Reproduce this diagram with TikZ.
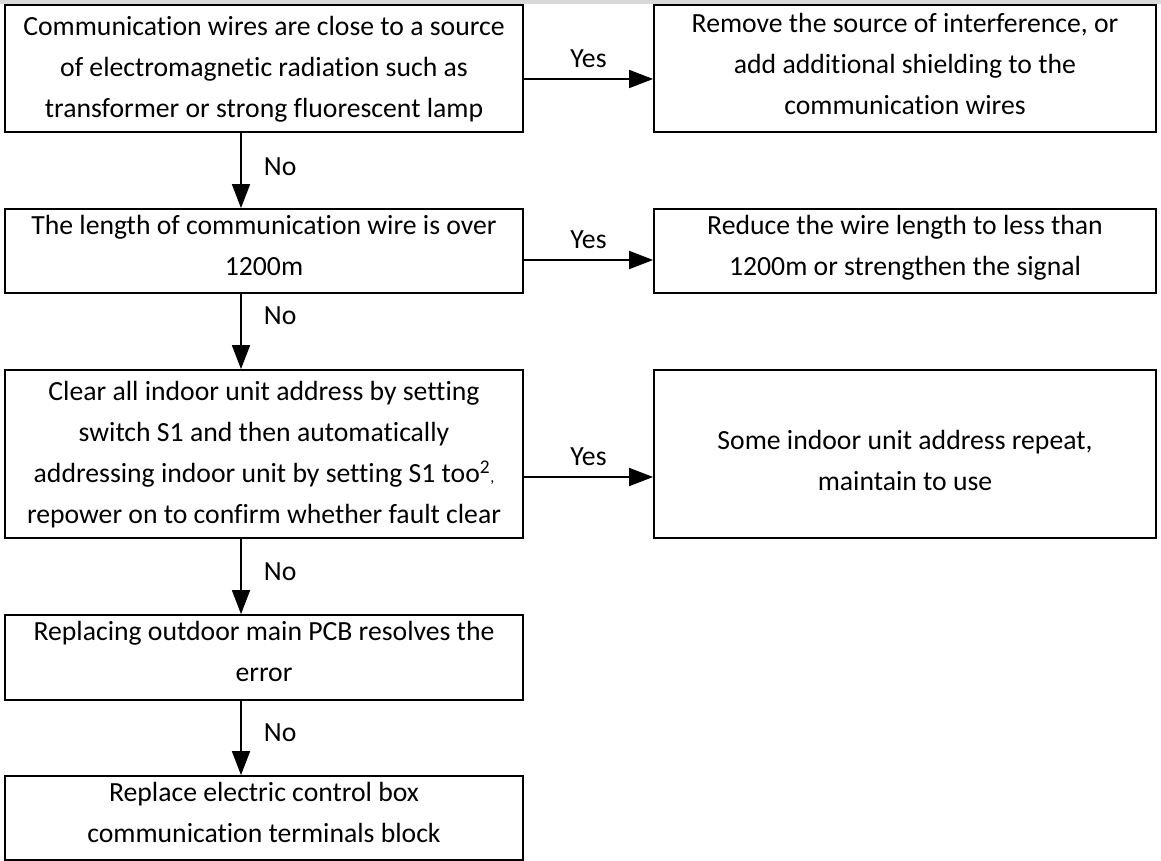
\documentclass[tikz,border=0pt]{standalone}
\usepackage{fontspec}
\setmainfont{Carlito}[Ligatures={NoCommon,NoContextual},Contextuals=NoAlternate]
\usetikzlibrary{arrows.meta,positioning}
\tikzset{
  box/.style={draw=black, line width=1.8pt, inner sep=0pt},
  txt/.style={align=center, inner sep=0pt, font=\fontsize{27.7}{41}\selectfont,
    execute at begin node=\strut, execute at end node=\strut},
  lbl/.style={inner sep=0pt, font=\fontsize{27.7}{33}\selectfont},
  arr/.style={line width=1.8pt, -{Triangle[length=24pt,width=18pt]}},
}
\begin{document}
\begin{tikzpicture}[x=1pt,y=-1pt]
\useasboundingbox (0,0) rectangle (1161,861);
\fill[black!15] (0,0) rectangle (1161,4.5);
% boxes
\node[box, minimum width=518pt, minimum height=127pt] (b1) at (264,68.5) {};
\node[box, minimum width=502pt, minimum height=127pt] (b2) at (905,68.5) {};
\node[box, minimum width=518pt, minimum height=84pt] (b3) at (264,251) {};
\node[box, minimum width=502pt, minimum height=84pt] (b4) at (905,251) {};
\node[box, minimum width=518pt, minimum height=168pt] (b5) at (264,454) {};
\node[box, minimum width=502pt, minimum height=168pt] (b6) at (905,454) {};
\node[box, minimum width=518pt, minimum height=85pt] (b7) at (264,657.5) {};
\node[box, minimum width=518pt, minimum height=84pt] (b8) at (264,818) {};
% texts
\node[txt] (t1) at (264,73) {Communication wires are close to a source\\of electromagnetic radiation such as\\transformer or strong fluorescent lamp};
\node[txt] (t2) at (905,70) {Remove the source of interference, or\\add additional shielding to the\\communication wires};
\node[txt] (t3) at (264,252) {The length of communication wire is over\\1200m};
\node[txt] (t4) at (905,252) {Reduce the wire length to less than\\1200m or strengthen the signal};
\node[txt] (t5) at (264,459) {Clear all indoor unit address by setting\\switch S1 and then automatically\\addressing indoor unit by setting S1 too\textsuperscript{2}{\fontsize{16}{16}\selectfont,}\\repower on to confirm whether fault clear};
\node[txt] (t6) at (905,467) {Some indoor unit address repeat,\\maintain to use};
\node[txt] (t7) at (264,658) {Replacing outdoor main PCB resolves the\\error};
\node[txt] (t8) at (264,819) {Replace electric control box\\communication terminals block};
% yes connectors
\draw[arr] ([yshift=-10.5pt]b1.east) -- ([yshift=-10.5pt]b1.east -| b2.west)
  node[lbl, midway, above=10pt] (y1) {Yes};
\draw[arr] ([yshift=-9pt]b3.east) -- ([yshift=-9pt]b3.east -| b4.west)
  node[lbl, midway, above=10pt] (y2) {Yes};
\draw[arr] ([yshift=-23pt]b5.east) -- ([yshift=-23pt]b5.east -| b6.west)
  node[lbl, midway, above=10pt] (y3) {Yes};
% no connectors
\draw[arr] ([xshift=-23pt]b1.south) -- ([xshift=-23pt]b3.north)
  node[lbl, pos=0.45, right=22pt] (n1) {No};
\draw[arr] ([xshift=-23pt]b3.south) -- ([xshift=-23pt]b5.north)
  node[lbl, pos=0.29, right=22pt] (n2) {No};
\draw[arr] ([xshift=-23pt]b5.south) -- ([xshift=-23pt]b7.north)
  node[lbl, pos=0.44, right=22pt] (n3) {No};
\draw[arr] ([xshift=-23pt]b7.south) -- ([xshift=-23pt]b8.north)
  node[lbl, pos=0.43, right=22pt] (n4) {No};
\end{tikzpicture}
\end{document}
